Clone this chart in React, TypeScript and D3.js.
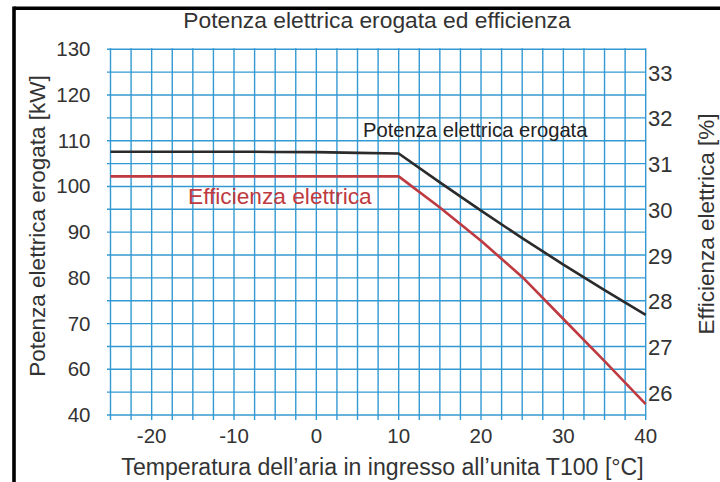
import React from "react";
import * as d3 from "d3";

// ---- data ----
const temps = [-25, -20, -15, -10, -5, 0, 5, 10, 15, 20, 25, 30, 35, 40];
const powerKW = [107.6, 107.6, 107.6, 107.6, 107.55, 107.5, 107.35, 107.2, 100.9, 94.7, 88.7, 82.9, 77.3, 71.9];
const efficiencyPct = [30.72, 30.72, 30.72, 30.72, 30.72, 30.72, 30.72, 30.72, 30.04, 29.31, 28.52, 27.6, 26.68, 25.74];

const xTickValues = [-20, -10, 0, 10, 20, 30, 40];
const xTickLabels = ["-20", "-10", "0", "10", "20", "30", "40"];
const leftTickValues = [50, 60, 70, 80, 90, 100, 110, 120, 130];
const leftTickLabels = ["40", "60", "70", "80", "90", "100", "110", "120", "130"];
const rightTickValues = [26, 27, 28, 29, 30, 31, 32, 33];
const rightTickLabels = ["26", "27", "28", "29", "30", "31", "32", "33"];

const titleText = "Potenza elettrica erogata ed efficienza";
const xTitle = "Temperatura dell\u2019aria in ingresso all\u2019unita T100 [°C]";
const leftTitle = "Potenza elettrica erogata [kW]";
const rightTitle = "Efficienza elettrica [%]";
const powerLabel = "Potenza elettrica erogata";
const effLabel = "Efficienza elettrica";

// ---- layout ----
const W = 720;
const H = 482;
const L = 110.5;
const R = 645.7;
const T = 49.3;
const B = 415;

const FONT = "'Liberation Sans', Arial, Helvetica, sans-serif";
const GRID = "#3399d2";
const TXT = "#333333";
const RED = "#be3a40";
const BLACK = "#2b2b2b";

export default function App() {
  const x = d3.scaleLinear().domain([-25, 40]).range([L, R]);
  const yL = d3.scaleLinear().domain([50, 130]).range([B, T]);
  const yR = d3.scaleLinear().domain([25.5, 33.5]).range([B, T]);

  const vGrid = d3.range(-25, 40.001, 2.5);
  const hGrid = d3.range(50, 130.001, 5);

  const powerLine = d3
    .line<number>()
    .x((_, i) => x(temps[i]))
    .y((d) => yL(d));
  const effLine = d3
    .line<number>()
    .x((_, i) => x(temps[i]))
    .y((d) => yR(d));

  return (
    <svg
      width={W}
      height={H}
      style={{ position: "absolute", left: 0, top: 0, background: "#fff" }}
      fontFamily={FONT}
    >
      <rect x={0} y={0} width={W} height={H} fill="#fff" />
      {/* frame */}
      <line x1={14} y1={8.3} x2={W} y2={8.3} stroke="#000" strokeWidth={3.4} />
      <line x1={14} y1={6.6} x2={14} y2={H} stroke="#000" strokeWidth={3.6} />

      {/* grid */}
      {hGrid.map((v) => (
        <line key={"h" + v} x1={L - 3.5} x2={R} y1={yL(v)} y2={yL(v)} stroke={GRID} strokeWidth={1.4} />
      ))}
      {vGrid.map((v) => (
        <line key={"v" + v} x1={x(v)} x2={x(v)} y1={T - 1} y2={B + 5} stroke={GRID} strokeWidth={1.4} />
      ))}

      {/* lines */}
      <path d={powerLine(powerKW) || ""} fill="none" stroke={BLACK} strokeWidth={2.6} strokeLinejoin="round" />
      <path d={effLine(efficiencyPct) || ""} fill="none" stroke={RED} strokeWidth={2.6} strokeLinejoin="round" />

      {/* title */}
      <text x={377} y={28.3} textAnchor="middle" fontSize={22.8} fill={TXT}>
        {titleText}
      </text>

      {/* left ticks */}
      {leftTickValues.map((v, i) => (
        <text key={"lt" + v} x={90.5} y={yL(v) + 7} textAnchor="end" fontSize={20.5} fill={TXT}>
          {leftTickLabels[i]}
        </text>
      ))}
      {/* right ticks */}
      {rightTickValues.map((v, i) => (
        <text key={"rt" + v} x={648} y={yR(v) + 8.5} textAnchor="start" fontSize={22} fill={TXT}>
          {rightTickLabels[i]}
        </text>
      ))}
      {/* x ticks */}
      {xTickValues.map((v, i) => (
        <text key={"xt" + v} x={x(v)} y={443} textAnchor="middle" fontSize={20.5} fill={TXT}>
          {xTickLabels[i]}
        </text>
      ))}

      {/* axis titles */}
      <text x={382.5} y={475} textAnchor="middle" fontSize={23.1} fill={TXT}>
        {xTitle}
      </text>
      <text
        transform={`translate(45,226) rotate(-90)`}
        textAnchor="middle"
        fontSize={22.5}
        fill={TXT}
      >
        {leftTitle}
      </text>
      <text
        transform={`translate(713.5,224) rotate(-90)`}
        textAnchor="middle"
        fontSize={22.5}
        fill={TXT}
      >
        {rightTitle}
      </text>

      {/* series labels */}
      <text x={363} y={136.5} fontSize={20.2} fill="#222">
        {powerLabel}
      </text>
      <text x={188} y={204} fontSize={22.7} fill={RED}>
        {effLabel}
      </text>
    </svg>
  );
}
